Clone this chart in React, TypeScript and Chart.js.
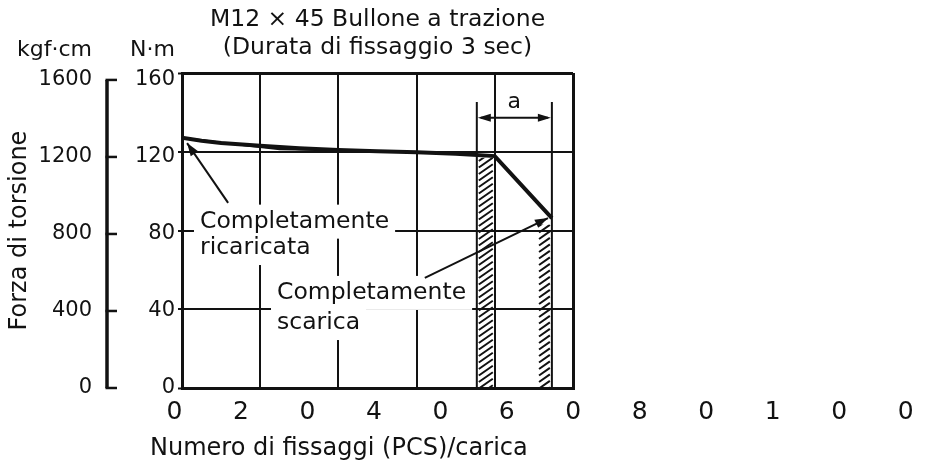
import { useEffect, useRef } from 'react'
import { Chart, registerables } from 'chart.js'

Chart.register(...registerables)

const titleLines = ['M12 × 45 Bullone a trazione', '(Durata di fissaggio 3 sec)']
const xTitle = 'Numero di fissaggi (PCS)/carica'
const yTitle = 'Forza di torsione'
const unitKgf = 'kgf·cm'
const unitNm = 'N·m'

// tick labels exactly as printed under the chart
const xTickLabels = ['0', '2', '0', '4', '0', '6', '0', '8', '0', '1', '0', '0']
const nmTicks = [0, 40, 80, 120, 160]
const kgfTicks = [0, 400, 800, 1200, 1600]

// torque (N·m) vs fastenings, main thick trace
const curveX = [0, 5, 10, 20, 30, 40, 50, 60, 70, 80, 94.6]
const curveY = [127.1, 125.6, 124.4, 123, 121.8, 120.9, 120.3, 119.7, 119, 117.8, 86.3]
// thin second trace near the start
const traceX = [0, 12, 25, 40]
const traceY = [127.1, 124.2, 121.3, 120.8]

// hatched bands
const bandStart = [75.4, 90.8]
const bandEnd = [80, 94.6]
const bandTop = [117, 83]

// "a" dimension
const dimX = [75.4, 94.6]
const dimArrowY = 137.3
const dimLineTop = 145.3
const dimLabel = 'a'
const dimLabelY = 145

// callouts
const chargedText = ['Completamente', 'ricaricata']
const chargedTextX = 4.6
const chargedTextY = [84.5, 71.1]
const chargedArrow = [11.8, 94, 1.3, 124.4]

const emptyText = ['Completamente', 'scarica']
const emptyTextX = 24.3
const emptyTextY = [48.3, 33]
const emptyArrow = [62.1, 55.9, 93.6, 86.3]

const ink = '#121212'
const family = "'DejaVu Sans', sans-serif"

function arrowHead(ctx: CanvasRenderingContext2D, x0: number, y0: number, x1: number, y1: number, len = 12, half = 4.5) {
  const a = Math.atan2(y1 - y0, x1 - x0)
  ctx.beginPath()
  ctx.moveTo(x1, y1)
  ctx.lineTo(x1 - len * Math.cos(a) + half * Math.sin(a), y1 - len * Math.sin(a) - half * Math.cos(a))
  ctx.lineTo(x1 - len * Math.cos(a) - half * Math.sin(a), y1 - len * Math.sin(a) + half * Math.cos(a))
  ctx.closePath()
  ctx.fill()
}

const extras = {
  id: 'extras',
  afterDatasetsDraw(chart: any) {
    const { ctx, scales } = chart
    const x = scales.x
    const y = scales.y
    const yk = scales.yk
    const yn = scales.yn
    const px = (v: number) => x.getPixelForValue(v)
    const py = (v: number) => y.getPixelForValue(v)
    ctx.save()
    ctx.strokeStyle = ink
    ctx.fillStyle = ink

    // hatched bands
    bandStart.forEach((s, i) => {
      const x0 = px(s)
      const x1 = px(bandEnd[i])
      const top = py(bandTop[i])
      const bottom = py(0)
      ctx.save()
      ctx.beginPath()
      ctx.rect(x0, top, x1 - x0, bottom - top)
      ctx.clip()
      ctx.lineWidth = 2
      ctx.beginPath()
      for (let yy = bottom + 20; yy > top - 20; yy -= 6.5) {
        ctx.moveTo(x0 + 2, yy)
        ctx.lineTo(x1 - 2, yy - (x1 - x0 - 4) * 0.7)
      }
      ctx.stroke()
      ctx.restore()
    })

    // dimension lines + arrow
    ctx.lineWidth = 2
    dimX.forEach((d) => {
      ctx.beginPath()
      ctx.moveTo(px(d), py(dimLineTop))
      ctx.lineTo(px(d), py(0))
      ctx.stroke()
    })
    const ay = py(dimArrowY)
    ctx.beginPath()
    ctx.moveTo(px(dimX[0]) + 4, ay)
    ctx.lineTo(px(dimX[1]) - 4, ay)
    ctx.stroke()
    arrowHead(ctx, px(dimX[1]), ay, px(dimX[0]) + 1, ay, 13, 4)
    arrowHead(ctx, px(dimX[0]), ay, px(dimX[1]) - 1, ay, 13, 4)
    ctx.font = `22px ${family}`
    ctx.textAlign = 'center'
    ctx.textBaseline = 'middle'
    ctx.fillText(dimLabel, (px(dimX[0]) + px(dimX[1])) / 2, py(dimLabelY))

    // callouts with white background per line
    const callout = (lines: string[], tx: number, ty: number[], arrow: number[]) => {
      ctx.font = `23.5px ${family}`
      ctx.textAlign = 'left'
      ctx.textBaseline = 'middle'
      lines.forEach((t, i) => {
        const w = ctx.measureText(t).width
        ctx.fillStyle = '#ffffff'
        ctx.fillRect(px(tx) - 6, py(ty[i]) - 17, w + 12, 34)
      })
      ctx.fillStyle = ink
      lines.forEach((t, i) => ctx.fillText(t, px(tx), py(ty[i])))
      const [ax0, ay0, ax1, ay1] = arrow
      ctx.lineWidth = 2
      ctx.beginPath()
      ctx.moveTo(px(ax0), py(ay0))
      ctx.lineTo(px(ax1), py(ay1))
      ctx.stroke()
      arrowHead(ctx, px(ax0), py(ay0), px(ax1), py(ay1), 13, 4.5)
    }
    callout(chargedText, chargedTextX, chargedTextY, chargedArrow)
    callout(emptyText, emptyTextX, emptyTextY, emptyArrow)

    // kgf·cm bracket axis
    const lx = yk.right - 10
    ctx.lineWidth = 3.5
    ctx.beginPath()
    ctx.moveTo(lx, yk.getPixelForValue(0))
    ctx.lineTo(lx, yk.getPixelForValue(1600))
    ctx.stroke()
    ctx.lineWidth = 2.5
    kgfTicks.forEach((k) => {
      const yy = yk.getPixelForValue(k)
      ctx.beginPath()
      ctx.moveTo(lx - 1.5, yy)
      ctx.lineTo(yk.right, yy)
      ctx.stroke()
    })

    // unit labels
    ctx.font = `22px ${family}`
    ctx.textAlign = 'right'
    ctx.textBaseline = 'middle'
    ctx.fillText(unitKgf, yk.right - 25, 50)
    ctx.fillText(unitNm, yn.right - 3, 50)

    // x axis title
    ctx.font = `24px ${family}`
    ctx.textAlign = 'left'
    ctx.fillText(xTitle, chart.chartArea.left - 32, 449)
    ctx.restore()
  },
}

export default function App() {
  const canvasRef = useRef<HTMLCanvasElement>(null)
  const chartRef = useRef<Chart | null>(null)

  useEffect(() => {
    if (!canvasRef.current) return
    if (chartRef.current) chartRef.current.destroy()

    const edgeWidth = (v: number, lo: number, hi: number) => (v === lo || v === hi ? 3 : 2)

    chartRef.current = new Chart(canvasRef.current, {
      type: 'line',
      data: {
        datasets: [
          {
            data: curveX.map((v, i) => ({ x: v, y: curveY[i] })),
            borderColor: ink,
            borderWidth: 4,
            pointRadius: 0,
            tension: 0,
            xAxisID: 'x',
            yAxisID: 'y',
          },
          {
            data: traceX.map((v, i) => ({ x: v, y: traceY[i] })),
            borderColor: ink,
            borderWidth: 2,
            pointRadius: 0,
            tension: 0,
            xAxisID: 'x',
            yAxisID: 'y',
          },
        ],
      },
      options: {
        responsive: true,
        maintainAspectRatio: false,
        animation: false,
        layout: { padding: { top: 0, right: 353, bottom: 0, left: 0 } },
        plugins: {
          legend: { display: false },
          tooltip: { enabled: false },
          title: {
            display: true,
            fullSize: false,
            text: titleLines,
            color: ink,
            font: { family, size: 23.5, weight: 'normal', lineHeight: 1.2 },
            padding: { top: 6, bottom: 10.6 },
          },
        },
        scales: {
          x: {
            type: 'linear',
            position: 'bottom',
            min: 0,
            max: 100,
            afterFit: (s: any) => { s.height = 0 },
            ticks: { display: false, stepSize: 20 },
            grid: { color: ink, lineWidth: (c: any) => edgeWidth(c.tick.value, 0, 100), drawTicks: false },
            border: { color: ink, width: 3 },
          },
          xt: {
            type: 'linear',
            position: 'bottom',
            weight: 1,
            min: 0.113,
            max: 5.996,
            afterBuildTicks: (s: any) => { s.ticks = xTickLabels.map((_, i) => ({ value: i })) },
            afterFit: (s: any) => { s.height = 82 },
            ticks: {
              autoSkip: false,
              maxRotation: 0,
              padding: 9,
              color: ink,
              font: { family, size: 25 },
              callback: (_v: any, i: number) => xTickLabels[i],
            },
            grid: { display: false, drawTicks: false },
            border: { display: false },
          },
          y: {
            type: 'linear',
            position: 'left',
            min: 0,
            max: 160,
            afterFit: (s: any) => { s.width = 4 },
            ticks: { display: false, stepSize: 40 },
            grid: { color: ink, lineWidth: (c: any) => edgeWidth(c.tick.value, 0, 160), tickLength: 4, tickWidth: 2 },
            border: { color: ink, width: 3 },
          },
          yn: {
            type: 'linear',
            position: 'left',
            weight: 1,
            min: 0,
            max: 163.6,
            afterBuildTicks: (s: any) => { s.ticks = nmTicks.map((v) => ({ value: v })) },
            afterFit: (s: any) => { s.width = 61 },
            ticks: { padding: 3, color: ink, font: { family, size: 21 }, callback: (v: any) => String(v) },
            grid: { display: false, drawTicks: false },
            border: { display: false },
          },
          yk: {
            type: 'linear',
            position: 'left',
            weight: 2,
            min: 0,
            max: 1636,
            afterBuildTicks: (s: any) => { s.ticks = kgfTicks.map((v) => ({ value: v })) },
            afterFit: (s: any) => { s.width = 117 },
            ticks: { padding: 25, color: ink, font: { family, size: 21 }, callback: (v: any) => String(v) },
            grid: { display: false, drawTicks: false },
            border: { display: false },
            title: {
              display: true,
              text: yTitle,
              color: ink,
              font: { family, size: 24 },
              padding: { top: 5, bottom: 0 },
            },
          },
        },
      },
      plugins: [extras],
    } as any)

    return () => {
      if (chartRef.current) {
        chartRef.current.destroy()
        chartRef.current = null
      }
    }
  }, [])

  return (
    <div style={{ position: 'fixed', left: 0, top: 0, width: '926px', height: '470px', background: '#fff' }}>
      <canvas ref={canvasRef} />
    </div>
  )
}
